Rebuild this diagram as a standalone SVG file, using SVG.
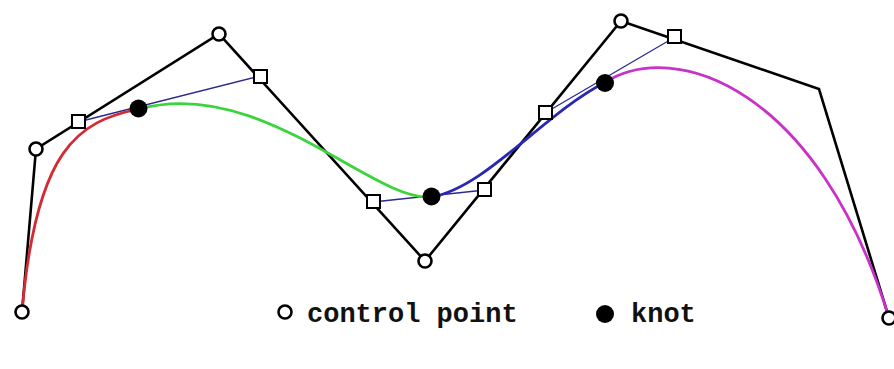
<svg xmlns="http://www.w3.org/2000/svg" width="894" height="369" viewBox="0 0 894 369">
<style>
.poly{fill:none;stroke:#000;stroke-width:2.6;stroke-linejoin:miter}
.hull{fill:none;stroke:#2a2a90;stroke-width:1.3}
.curve{fill:none;stroke-width:2.8;stroke-linecap:round}
.cp{fill:#fff;stroke:#000;stroke-width:2.6}
.sq{fill:#fff;stroke:#000;stroke-width:2}
.knot{fill:#000}
.lbl{font-family:"Liberation Mono","Courier New",monospace;font-size:27px;font-weight:bold;fill:#111}
</style>
<rect width="894" height="369" fill="#fff"/>
<g id="connectors">
  <polyline class="poly" points="22,312 36,149 219,34 425,261 621,21 819,89 889,318"/>
  <line class="hull" x1="78" y1="122" x2="260" y2="76"/>
  <line class="hull" x1="373" y1="202" x2="485" y2="190"/>
  <line class="hull" x1="545" y1="113" x2="675" y2="37"/>
  <path class="curve" stroke="#d42a34" d="M22,312 C36,149 78,121 139,109"/>
  <path class="curve" stroke="#3cd43c" d="M139,109 C260,76 373,202 431,197"/>
  <path class="curve" stroke="#2828b4" d="M431,197 C484,189 545,113 604,83"/>
  <path class="curve" stroke="#c832c8" d="M604,83 C675,37 819,89 889,318"/>
</g>
<g id="cp0"><circle class="cp" cx="22" cy="312" r="6.5"/></g>
<g id="cp1"><circle class="cp" cx="36" cy="149" r="6.5"/></g>
<g id="cp2"><circle class="cp" cx="219" cy="34" r="6.5"/></g>
<g id="cp3"><circle class="cp" cx="425" cy="261" r="6.5"/></g>
<g id="cp4"><circle class="cp" cx="621" cy="21" r="6.5"/></g>
<g id="cp5"><circle class="cp" cx="889" cy="318" r="6.5"/></g>
<g id="sq1"><rect class="sq" x="72" y="115" width="13" height="13"/></g>
<g id="sq2"><rect class="sq" x="254" y="70" width="13" height="13"/></g>
<g id="sq3"><rect class="sq" x="367" y="195" width="13" height="13"/></g>
<g id="sq4"><rect class="sq" x="478" y="183" width="13" height="13"/></g>
<g id="sq5"><rect class="sq" x="539" y="106" width="13" height="13"/></g>
<g id="sq6"><rect class="sq" x="668" y="30" width="13" height="13"/></g>
<g id="knot1"><circle class="knot" cx="138.5" cy="108.5" r="9"/></g>
<g id="knot2"><circle class="knot" cx="431.5" cy="196.5" r="9"/></g>
<g id="knot3"><circle class="knot" cx="605" cy="83" r="9"/></g>
<g id="legend">
  <circle class="cp" cx="285" cy="312" r="6.5" stroke-width="3"/>
  <text class="lbl" x="307" y="322">control point</text>
  <circle class="knot" cx="605" cy="314" r="9"/>
  <text class="lbl" x="631" y="322">knot</text>
</g>
</svg>
